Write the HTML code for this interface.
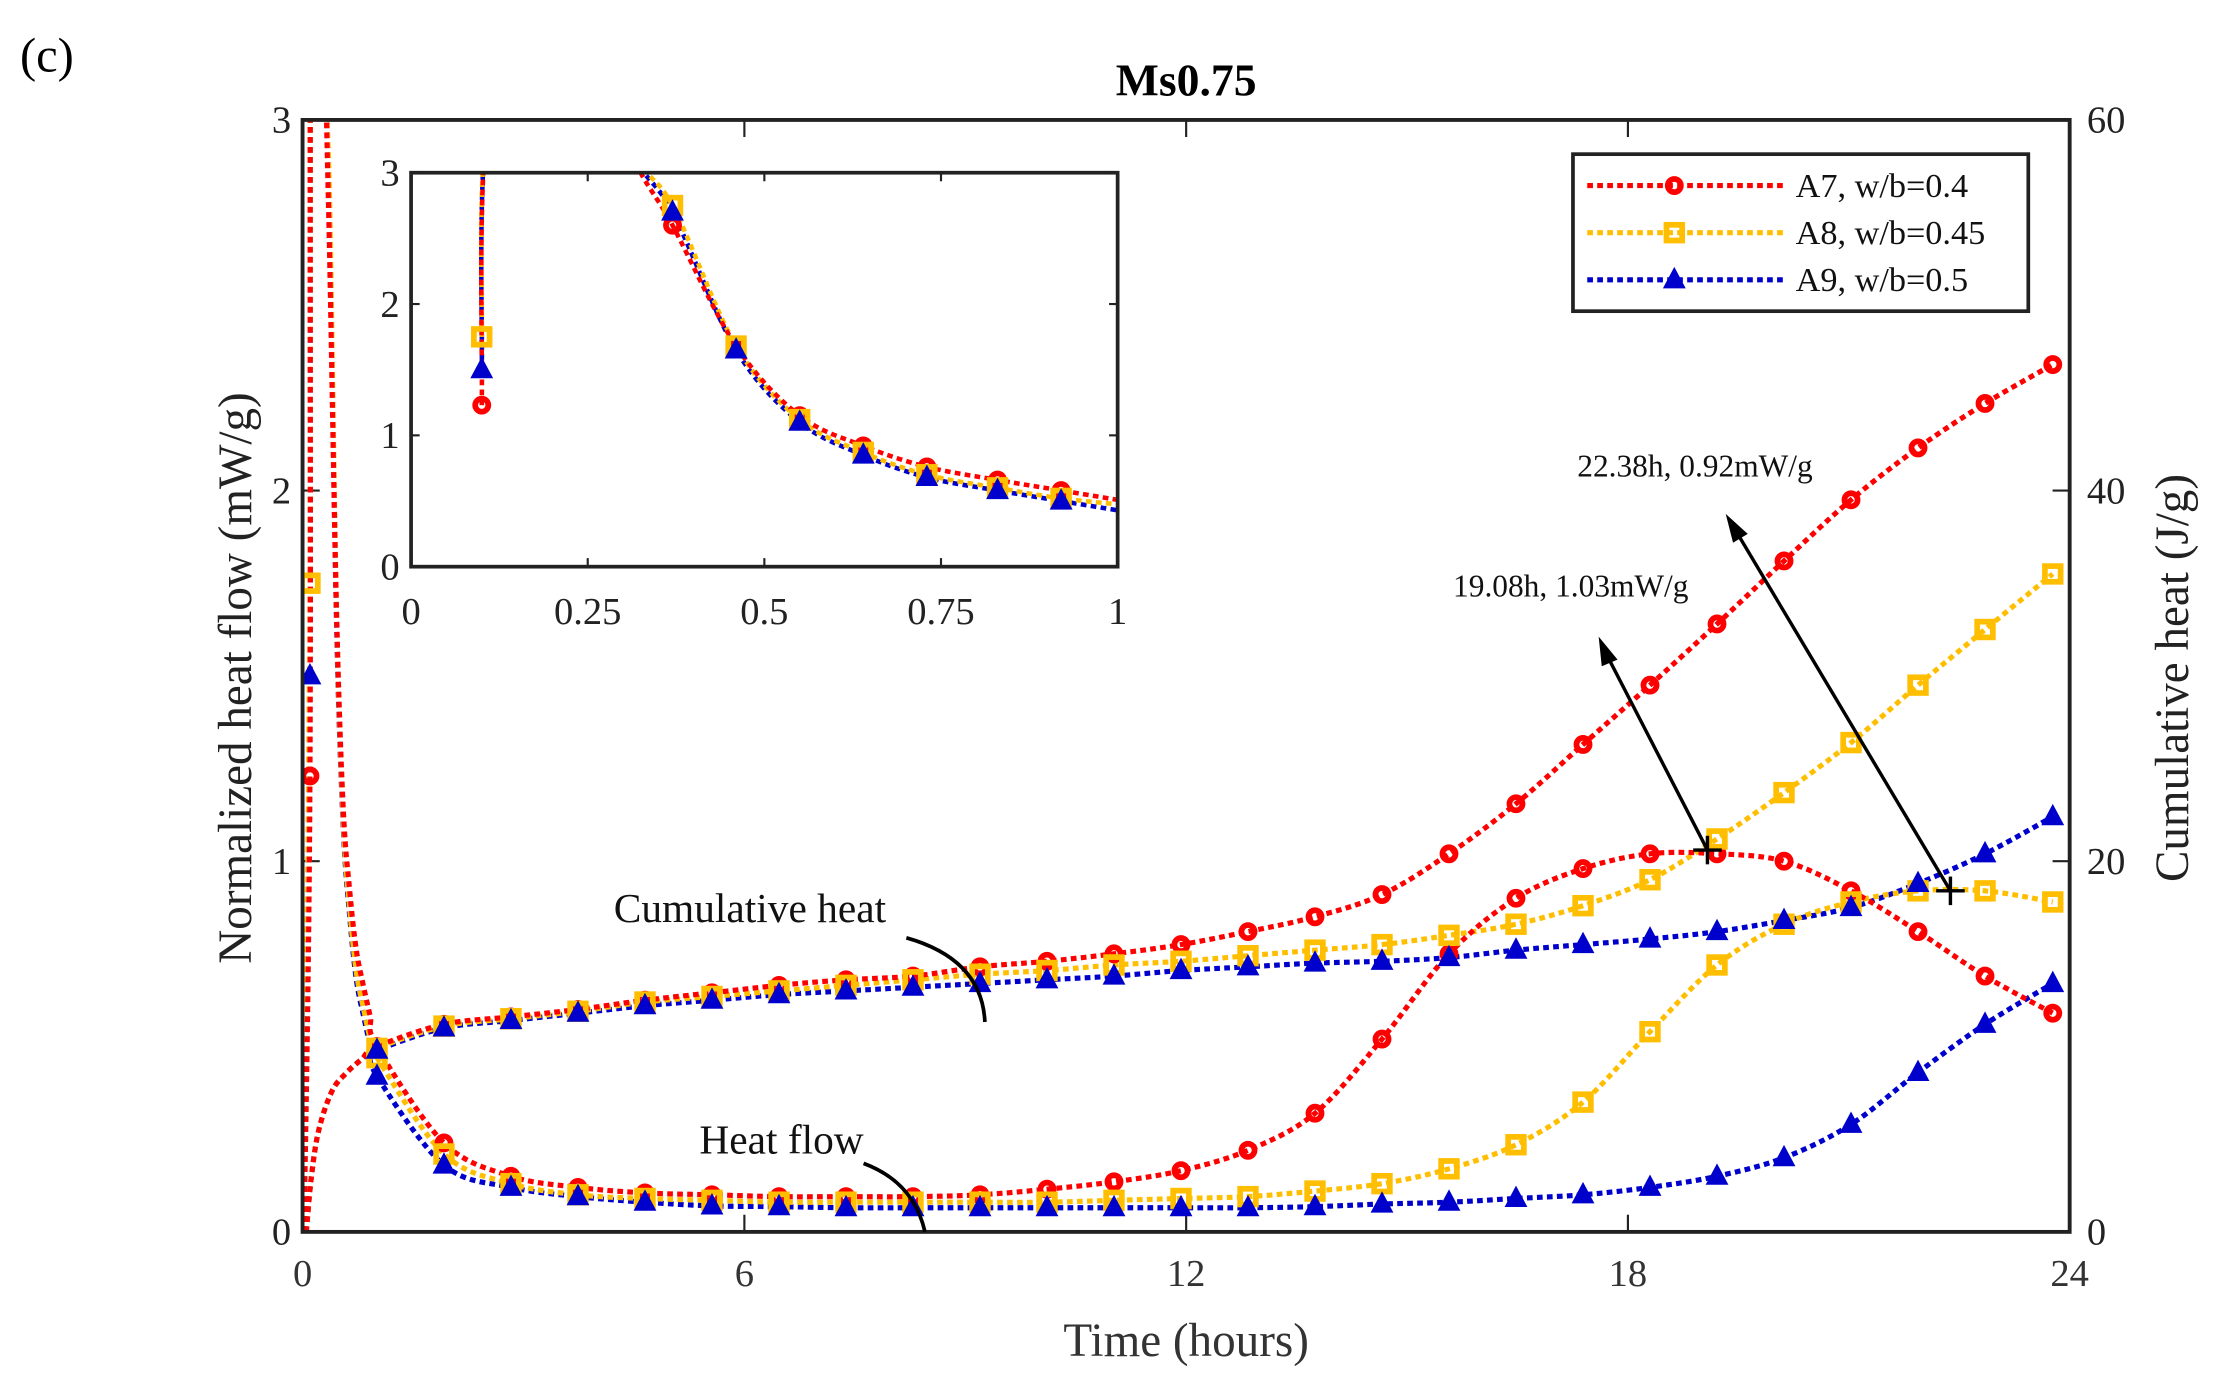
<!DOCTYPE html>
<html><head><meta charset="utf-8"><style>
html,body{margin:0;padding:0;background:#fff;}
svg{display:block;font-family:"Liberation Serif",serif;}
</style></head><body>
<svg id="chart" width="2221" height="1381" viewBox="0 0 1556 967.5" preserveAspectRatio="none" xmlns="http://www.w3.org/2000/svg">
<defs>
<clipPath id="mainClip"><rect x="212" y="84" width="1238" height="779"/></clipPath>
<clipPath id="insetClip"><rect x="288" y="121" width="495" height="276"/></clipPath>
</defs>
<rect x="0" y="0" width="1556" height="967.5" fill="#fff"/>
<text x="14" y="50" font-size="34">(c)</text>
<text x="831" y="67" font-size="32" font-weight="bold" text-anchor="middle">Ms0.75</text>
<g id="mainG"></g>
<g id="insetG"></g>
<g id="annot"></g>
</svg>
<script>
// ---- data ----
var mainTimes = [0.1,1.01,1.92,2.83,3.74,4.65,5.56,6.47,7.38,8.29,9.2,10.11,11.02,11.93,12.84,13.75,14.66,15.57,16.48,17.39,18.3,19.21,20.12,21.03,21.94,22.85,23.77];
var hfA7 = [1.23,0.5,0.24,0.15,0.12,0.105,0.1,0.095,0.095,0.095,0.1,0.115,0.135,0.165,0.22,0.32,0.52,0.75,0.9,0.98,1.02,1.02,1.0,0.92,0.81,0.69,0.59];
var hfA8 = [1.75,0.47,0.21,0.13,0.1,0.09,0.085,0.08,0.08,0.08,0.08,0.08,0.085,0.09,0.095,0.11,0.13,0.17,0.235,0.35,0.54,0.72,0.83,0.89,0.92,0.92,0.89];
var hfA9 = [1.5,0.42,0.18,0.12,0.095,0.08,0.07,0.068,0.065,0.065,0.065,0.065,0.065,0.065,0.065,0.068,0.075,0.08,0.09,0.1,0.12,0.15,0.2,0.29,0.43,0.56,0.67];
var cumA7 = [10.0,11.2,11.6,12.0,12.5,12.9,13.3,13.6,13.8,14.3,14.6,15.0,15.5,16.2,17.0,18.2,20.4,23.1,26.3,29.5,32.8,36.2,39.5,42.3,44.7,46.8];
var cumA8 = [9.9,11.1,11.5,11.9,12.4,12.7,13.0,13.3,13.6,13.9,14.1,14.4,14.6,14.9,15.2,15.5,16.0,16.6,17.6,19.0,21.2,23.7,26.4,29.5,32.5,35.5];
var cumA9 = [9.8,11.0,11.4,11.8,12.2,12.5,12.8,13.0,13.2,13.4,13.6,13.8,14.1,14.3,14.5,14.6,14.8,15.2,15.5,15.8,16.2,16.8,17.5,18.8,20.4,22.4];
var earlyTimes = [0.1,0.11,0.2,0.3,0.37,0.46,0.55,0.64,0.73,0.83,0.92];
var earlyA7 = [1.23,3.5,5,3.3,2.6,1.68,1.15,0.92,0.76,0.66,0.58];
var earlyA8 = [1.75,3.5,5,3.3,2.75,1.68,1.12,0.87,0.70,0.60,0.52];
var earlyA9 = [1.5,3.5,5,3.3,2.7,1.65,1.1,0.85,0.68,0.58,0.50];
var insetMarkerIdx = [0,4,5,6,7,8,9,10];
var cumEarlyTimes = [0.05,0.12,0.22,0.4,0.6,0.8];
var cumEarly = [0,3,5.5,7.6,8.6,9.3];
var xTicks = [0,6,12,18,24];
var yTicks = [0,1,2,3];
var y2Ticks = [0,20,40,60];
var insetXTicks = [0,0.25,0.5,0.75,1];
var insetXLabels = ["0","0.25","0.5","0.75","1"];
var insetYTicks = [0,1,2,3];
var seriesNames = ["A7, w/b=0.4","A8, w/b=0.45","A9, w/b=0.5"];
var peaks = [[19.08,1.03],[22.38,0.92]];
var peakLabels = ["19.08h, 1.03mW/g","22.38h, 0.92mW/g"];

// ---- scales ----
var X0=212,X1=1450,Y0=863,Y1=84;
function sx(t){return X0+(t/24)*(X1-X0);}
function sy(v){return Y0-(v/3)*(Y0-Y1);}
function sy2(v){return Y0-(v/60)*(Y0-Y1);}
var IX0=288,IX1=783,IY0=397,IY1=121;
function ix(t){return IX0+t*(IX1-IX0);}
function iy(v){return IY0-(v/3)*(IY0-IY1);}

var NS="http://www.w3.org/2000/svg";
function mk(tag,attrs,parent){var e=document.createElementNS(NS,tag);for(var k in attrs)e.setAttribute(k,attrs[k]);parent.appendChild(e);return e;}
function smooth(pts){
  var d="M"+pts[0][0].toFixed(2)+","+pts[0][1].toFixed(2);
  for(var i=0;i<pts.length-1;i++){
    var p0=pts[i-1]||pts[i],p1=pts[i],p2=pts[i+1],p3=pts[i+2]||p2;
    var c1x=p1[0]+(p2[0]-p0[0])/6,c1y=p1[1]+(p2[1]-p0[1])/6;
    var c2x=p2[0]-(p3[0]-p1[0])/6,c2y=p2[1]-(p3[1]-p1[1])/6;
    d+="C"+c1x.toFixed(2)+","+c1y.toFixed(2)+" "+c2x.toFixed(2)+","+c2y.toFixed(2)+" "+p2[0].toFixed(2)+","+p2[1].toFixed(2);
  }
  return d;
}
var colors=["#ff0000","#ffbf00","#0000cc"];
var shapes=["circle","square","triangle"];
function marker(shape,color,x,y,parent,s){
  s=s||1;var e;
  if(shape==="circle"){e=mk("circle",{cx:x,cy:y,r:4.6*s,fill:"none",stroke:color,"stroke-width":4*s},parent);}
  else if(shape==="square"){e=mk("rect",{x:x-5.5*s,y:y-5.5*s,width:11*s,height:11*s,fill:"none",stroke:color,"stroke-width":4*s},parent);}
  else {e=mk("polygon",{points:(x)+","+(y-9*s)+" "+(x-8*s)+","+(y+6*s)+" "+(x+8*s)+","+(y+6*s),fill:color},parent);}
  return e;
}
var mainG=document.getElementById("mainG");
var insetG=document.getElementById("insetG");
var annot=document.getElementById("annot");

var frame=mk("rect",{x:X0,y:Y1,width:X1-X0,height:Y0-Y1,fill:"none",stroke:"#222","stroke-width":2.6},mainG);


xTicks.forEach(function(t){
  var x=sx(t);
  mk("line",{x1:x,y1:Y0,x2:x,y2:Y0-12,stroke:"#222","stroke-width":1.5},mainG);
  mk("line",{x1:x,y1:Y1,x2:x,y2:Y1+12,stroke:"#222","stroke-width":1.5},mainG);
  var tx=mk("text",{x:x,y:Y0+38,"font-size":27,"text-anchor":"middle",fill:"#333"},mainG);tx.textContent=t;
  
  
});
yTicks.forEach(function(v){
  var y=sy(v);
  mk("line",{x1:X0,y1:y,x2:X0+12,y2:y,stroke:"#222","stroke-width":1.5},mainG);
  var tx=mk("text",{x:X0-8,y:y+9,"font-size":27,"text-anchor":"end",fill:"#222"},mainG);tx.textContent=v;
  
  
});
y2Ticks.forEach(function(v){
  var y=sy2(v);
  mk("line",{x1:X1,y1:y,x2:X1-12,y2:y,stroke:"#222","stroke-width":1.5},mainG);
  var tx=mk("text",{x:X1+12,y:y+9,"font-size":27,"text-anchor":"start",fill:"#222"},mainG);tx.textContent=v;
  
  
});
var xl=mk("text",{x:831,y:950,"font-size":33,"text-anchor":"middle",fill:"#333"},mainG);xl.textContent="Time (hours)";


var yl=mk("text",{x:0,y:0,"font-size":33,"text-anchor":"middle",transform:"translate(176,475) rotate(-90)",fill:"#222"},mainG);yl.textContent="Normalized heat flow (mW/g)";


var y2l=mk("text",{x:0,y:0,"font-size":33,"text-anchor":"middle",transform:"translate(1533,475) rotate(-90)",fill:"#222"},mainG);y2l.textContent="Cumulative heat (J/g)";



var hfAll=[hfA7,hfA8,hfA9],earlyAll=[earlyA7,earlyA8,earlyA9],cumAll=[cumA7,cumA8,cumA9];
var plotG=mk("g",{"clip-path":"url(#mainClip)"},mainG);
[2,1,0].forEach(function(s){
  var pts=[[sx(0.02),sy(0)]];
  earlyTimes.forEach(function(t,i){pts.push([sx(t),sy(earlyAll[s][i])]);});
  for(var k=1;k<mainTimes.length;k++)pts.push([sx(mainTimes[k]),sy(hfAll[s][k])]);
  var p=mk("path",{d:smooth(pts),fill:"none",stroke:colors[s],"stroke-width":3.6,"stroke-dasharray":"4 3"},plotG);
  
  
  var cp=[];
  cumEarlyTimes.forEach(function(t,i){cp.push([sx(t),sy2(cumEarly[i])]);});
  cumAll[s].forEach(function(v,i){cp.push([sx(mainTimes[i+1]),sy2(v)]);});
  var c=mk("path",{d:smooth(cp),fill:"none",stroke:colors[s],"stroke-width":3.6,"stroke-dasharray":"4 3"},plotG);
  
  
});
[0,1,2].forEach(function(s){
  hfAll[s].forEach(function(v,k){
    var m=marker(shapes[s],colors[s],sx(mainTimes[k]),sy(v),plotG);
    
    
  });
  cumAll[s].forEach(function(v,i){
    var m=marker(shapes[s],colors[s],sx(mainTimes[i+1]),sy2(v),plotG);
    
    
  });
});
mk("rect",{x:X0,y:Y1,width:X1-X0,height:Y0-Y1,fill:"none",stroke:"#222","stroke-width":2.6},mainG);

// inset
var ibg=mk("rect",{x:IX0,y:IY1,width:IX1-IX0,height:IY0-IY1,fill:"#fff",stroke:"none"},insetG);


var iG=mk("g",{"clip-path":"url(#insetClip)"},insetG);
[2,1,0].forEach(function(s){
  var pts=[];
  earlyTimes.forEach(function(t,i){pts.push([ix(t),iy(earlyAll[s][i])]);});
  pts.push([ix(mainTimes[1]),iy(hfAll[s][1])]);
  var p=mk("path",{d:smooth(pts),fill:"none",stroke:colors[s],"stroke-width":3.2,"stroke-dasharray":"4 3"},iG);
  
  
});
[0,1,2].forEach(function(s){
  insetMarkerIdx.forEach(function(i){
    var m=marker(shapes[s],colors[s],ix(earlyTimes[i]),iy(earlyAll[s][i]),iG);
    
    
  });
});
var iframe=mk("rect",{x:IX0,y:IY1,width:IX1-IX0,height:IY0-IY1,fill:"none",stroke:"#222","stroke-width":2.6},insetG);


insetXTicks.forEach(function(t,i){
  var x=ix(t);
  mk("line",{x1:x,y1:IY0,x2:x,y2:IY0-6,stroke:"#222","stroke-width":1.5},insetG);
  mk("line",{x1:x,y1:IY1,x2:x,y2:IY1+6,stroke:"#222","stroke-width":1.5},insetG);
  var tx=mk("text",{x:x,y:IY0+40,"font-size":27,"text-anchor":"middle",fill:"#222"},insetG);tx.textContent=insetXLabels[i];
  
  
});
insetYTicks.forEach(function(v){
  var y=iy(v);
  mk("line",{x1:IX0,y1:y,x2:IX0+6,y2:y,stroke:"#222","stroke-width":1.5},insetG);
  mk("line",{x1:IX1,y1:y,x2:IX1-6,y2:y,stroke:"#222","stroke-width":1.5},insetG);
  var tx=mk("text",{x:IX0-8,y:y+9,"font-size":27,"text-anchor":"end",fill:"#222"},insetG);tx.textContent=v;
  
  
});

// legend
var lg=mk("g",{},annot);


mk("rect",{x:1102,y:108,width:319,height:110,fill:"#fff",stroke:"#222","stroke-width":2.6},lg);
seriesNames.forEach(function(n,s){
  var y=130+s*33;
  var ent=mk("g",{},lg);
  
  
  mk("line",{x1:1112,y1:y,x2:1250,y2:y,stroke:colors[s],"stroke-width":3.6,"stroke-dasharray":"4 3"},ent);
  marker(shapes[s],colors[s],1173,y,ent);
  var tx=mk("text",{x:1258,y:y+8,"font-size":24,fill:"#111"},ent);tx.textContent=n;
});

// annotations
var arrows=[[1183,597,1120,446],[1365,620,1209,360]];
var labelPos=[[1018,418],[1105,334]];
peaks.forEach(function(p,i){
  var px=sx(p[0]),py=sy(p[1]);
  var g=mk("g",{},annot);
  
  
  mk("line",{x1:px-10,y1:py,x2:px+10,y2:py,stroke:"#000","stroke-width":2.4},g);
  mk("line",{x1:px,y1:py-10,x2:px,y2:py+10,stroke:"#000","stroke-width":2.4},g);
  var a=arrows[i];
  var dx=a[2]-a[0],dy=a[3]-a[1],L=Math.sqrt(dx*dx+dy*dy),ux=dx/L,uy=dy/L;
  mk("line",{x1:px,y1:py,x2:a[2]-ux*10,y2:a[3]-uy*10,stroke:"#000","stroke-width":2.4},g);
  var bx=a[2]-ux*20,by=a[3]-uy*20;
  mk("polygon",{points:a[2]+","+a[3]+" "+(bx-uy*6)+","+(by+ux*6)+" "+(bx+uy*6)+","+(by-ux*6),fill:"#000"},g);
  var tx=mk("text",{x:labelPos[i][0],y:labelPos[i][1],"font-size":22,fill:"#111"},g);tx.textContent=peakLabels[i];
});
var ch=mk("text",{x:430,y:646,"font-size":29,fill:"#111"},annot);ch.textContent="Cumulative heat";


mk("path",{d:"M635,657 Q688,672 690,716",fill:"none",stroke:"#000","stroke-width":2.6},annot);
var hf=mk("text",{x:490,y:808,"font-size":29,fill:"#111"},annot);hf.textContent="Heat flow";


mk("path",{d:"M605,815 Q640,828 648,863",fill:"none",stroke:"#000","stroke-width":2.6},annot);
</script>
</body></html>
